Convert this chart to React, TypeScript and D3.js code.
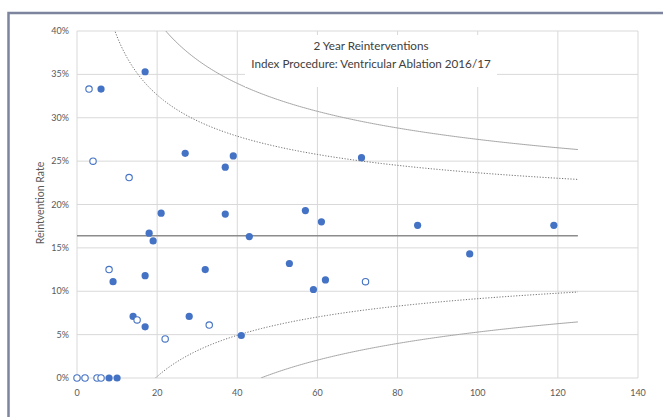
import React from "react";
import * as d3 from "d3";

const filledN = [6, 17, 27, 39, 37, 71, 21, 37, 57, 61, 85, 119, 18, 19, 43, 98, 53, 32, 9, 17, 59, 62, 14, 17, 28, 41, 8, 10];
const filledRate = [33.3, 35.3, 25.9, 25.6, 24.3, 25.4, 19.0, 18.9, 19.3, 18.0, 17.6, 17.6, 16.7, 15.8, 16.3, 14.3, 13.2, 12.5, 11.1, 11.8, 10.2, 11.3, 7.1, 5.9, 7.1, 4.9, 0, 0];
const openN = [3, 4, 13, 8, 15, 22, 33, 72, 0, 2, 5, 6];
const openRate = [33.3, 25.0, 23.1, 12.5, 6.7, 4.5, 6.1, 11.1, 0, 0, 0, 0];

const meanRate = 16.4;
const limitZ = [1.96, 3];
const limitMaxN = 125;
const xTicks = [0, 20, 40, 60, 80, 100, 120, 140];
const yTicks = [0, 5, 10, 15, 20, 25, 30, 35, 40];
const titleLines = ["2 Year Reinterventions", "Index Procedure: Ventricular Ablation 2016/17"];
const yLabel = "Reintvention Rate";

const W = 663;
const H = 417;
const FONT = "Lato, 'Open Sans', sans-serif";
const BLUE = "#4472c4";

export default function App() {
  const x = d3.scaleLinear().domain([0, 140]).range([77, 638]);
  const y = d3.scaleLinear().domain([0, 40]).range([378, 31]);
  const p = meanRate / 100;

  const makeLimit = (z: number, sign: number) => {
    const pts: [number, number][] = [];
    const n0 = sign < 0 ? (z * z * (1 - p)) / p : 1;
    const ns = [n0];
    for (let n = Math.ceil(n0 * 2) / 2; n <= limitMaxN; n += 0.5) if (n > n0) ns.push(n);
    for (const n of ns) {
      const v = p + sign * z * Math.sqrt((p * (1 - p)) / n);
      pts.push([n, Math.max(0, v * 100)]);
    }
    return pts;
  };
  const line = d3
    .line<[number, number]>()
    .x((d) => x(d[0]))
    .y((d) => y(d[1]))
    .curve(d3.curveLinear);

  return (
    <svg width={W} height={H} style={{ position: "absolute", left: 0, top: 0, background: "#fff" }}>
      <defs>
        <clipPath id="plotclip">
          <rect x={x(0)} y={y(40)} width={x(140) - x(0)} height={y(0) - y(40)} />
        </clipPath>
      </defs>
      <rect x={0} y={0} width={W} height={H} fill="#fff" />
      <rect x={8.5} y={13} width={720} height={500} fill="none" stroke="#7d849e" strokeWidth={2.5} />
      {yTicks.map((t) => (
        <line key={"gy" + t} x1={x(0)} x2={x(140)} y1={y(t)} y2={y(t)} stroke="#d9d9d9" strokeWidth={1} />
      ))}
      {xTicks.map((t) => (
        <line key={"gx" + t} x1={x(t)} x2={x(t)} y1={y(0)} y2={y(40)} stroke="#d9d9d9" strokeWidth={1} />
      ))}
      <g clipPath="url(#plotclip)" fill="none">
        {limitZ.map((z, i) =>
          [1, -1].map((s) => (
            <path
              key={"l" + z + s}
              d={line(makeLimit(z, s)) || ""}
              stroke={i === 0 ? "#6f6f6f" : "#a6a6a6"}
              strokeWidth={1}
              strokeDasharray={i === 0 ? "1.2 1.6" : undefined}
            />
          ))
        )}
      </g>
      <line x1={x(0)} x2={x(limitMaxN)} y1={y(meanRate)} y2={y(meanRate)} stroke="#8c8c8c" strokeWidth={1.5} />
      <rect x={245} y={35} width={252} height={52} fill="#fff" />
      {titleLines.map((t, i) => (
        <text key={t} x={371} y={50 + i * 18} textAnchor="middle" fontFamily={FONT} fontSize={11.7} fill="#404040">
          {t}
        </text>
      ))}
      {filledN.map((n, i) => (
        <circle key={"f" + i} cx={x(n)} cy={y(filledRate[i])} r={3.6} fill={BLUE} />
      ))}
      {openN.map((n, i) => (
        <circle key={"o" + i} cx={x(n)} cy={y(openRate[i])} r={3.2} fill="#fff" stroke={BLUE} strokeWidth={1.1} />
      ))}
      {yTicks.map((t) => (
        <text key={"ty" + t} x={69} y={y(t) + 3} textAnchor="end" fontFamily={FONT} fontSize={9} fill="#595959">
          {t + "%"}
        </text>
      ))}
      {xTicks.map((t) => (
        <text key={"tx" + t} x={x(t)} y={396} textAnchor="middle" fontFamily={FONT} fontSize={9} fill="#595959">
          {t}
        </text>
      ))}
      <text
        transform={`translate(44, 203) rotate(-90)`}
        textAnchor="middle"
        fontFamily={FONT}
        fontSize={10.5}
        fill="#595959"
      >
        {yLabel}
      </text>
    </svg>
  );
}
